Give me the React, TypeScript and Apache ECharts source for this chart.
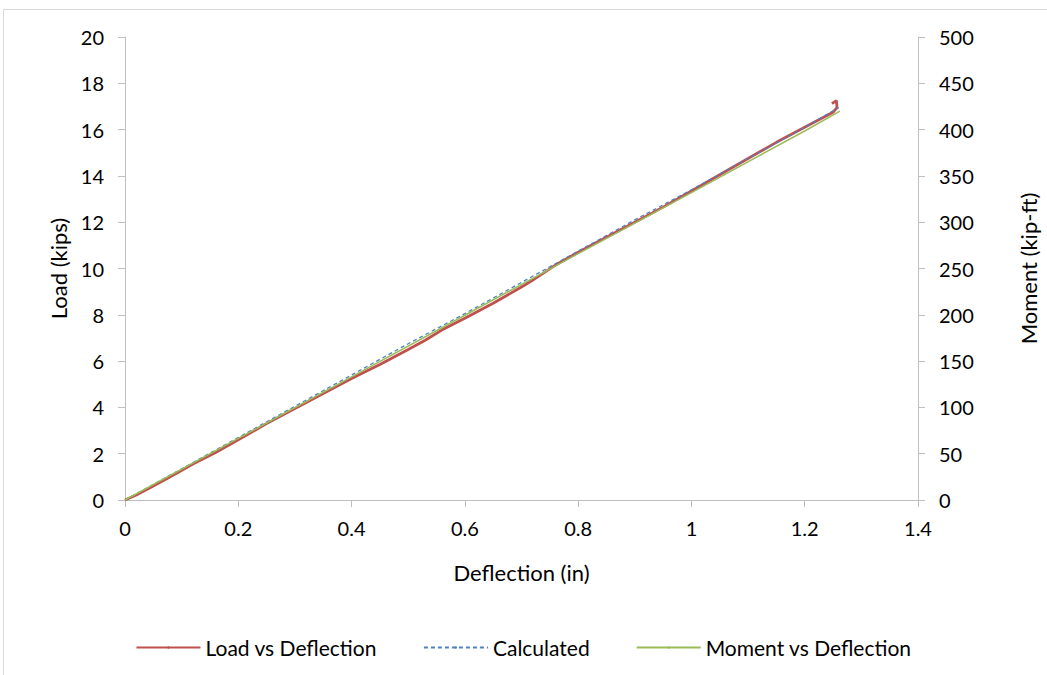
import React, { useEffect, useRef } from "react";
import * as echarts from "echarts";

const loadDefl = [0, 0.02, 0.05, 0.08, 0.12, 0.16, 0.2, 0.25, 0.3, 0.35, 0.4, 0.45, 0.5, 0.53, 0.56, 0.6, 0.65, 0.7, 0.72, 0.76, 0.8, 0.85, 0.9, 0.95, 1.0, 1.05, 1.1, 1.15, 1.2, 1.25, 1.257, 1.256, 1.248];
const loadVals = [0, 0.22, 0.6, 1.0, 1.55, 2.05, 2.6, 3.3, 3.95, 4.6, 5.25, 5.85, 6.5, 6.9, 7.35, 7.85, 8.5, 9.2, 9.5, 10.15, 10.7, 11.35, 12.0, 12.65, 13.35, 14.05, 14.75, 15.45, 16.1, 16.75, 16.95, 17.25, 17.12];

const calcDefl = [0, 0.1, 0.2, 0.3, 0.4, 0.5, 0.6, 0.7, 0.8, 0.9, 1.0, 1.1, 1.2, 1.26];
const calcVals = [0, 1.35, 2.7, 4.05, 5.4, 6.75, 8.05, 9.4, 10.75, 12.1, 13.4, 14.75, 16.1, 16.95];

const momDefl = [0, 0.2, 0.4, 0.6, 0.8, 1.0, 1.2, 1.262];
const momVals = [0, 66.5, 133, 199.5, 266, 332, 398.5, 420];

const pair = (xs: number[], ys: number[]) => xs.map((x, i) => [x, ys[i]]);

export default function App() {
  const ref = useRef<HTMLDivElement>(null);
  useEffect(() => {
    if (!ref.current) return;
    const chart = echarts.init(ref.current, null, { renderer: "svg" });
    const font = "Lato, 'Open Sans', sans-serif";
    const axisLine = { show: true, lineStyle: { color: "#BFBFBF", width: 1 } };
    const axisTick = { show: true, inside: false, length: 7, lineStyle: { color: "#BFBFBF" } };
    const lbl = { fontSize: 20, color: "#000", margin: 21, fontFamily: font };
    const ttl = { fontSize: 22, color: "#000", fontFamily: font };
    chart.setOption({
      animation: false,
      backgroundColor: "#fff",
      textStyle: { fontFamily: font },
      graphic: [
        {
          type: "rect",
          shape: { x: 3.5, y: 9.5, width: 1060, height: 700 },
          style: { fill: "none", stroke: "#D9D9D9", lineWidth: 1 },
          silent: true,
        },
      ],
      grid: { left: 125, right: 117, top: 37, bottom: 175, containLabel: false },
      legend: {
        top: 632,
        left: "center",
        itemWidth: 64,
        itemHeight: 3,
        itemGap: 46,
        textStyle: { fontSize: 21, color: "#000", fontFamily: font },
        data: ["Load vs Deflection", "Calculated", "Moment vs Deflection"],
      },
      xAxis: {
        type: "value",
        min: 0,
        max: 1.4,
        interval: 0.2,
        name: "Deflection (in)",
        nameLocation: "middle",
        nameGap: 61,
        nameTextStyle: ttl,
        axisLine,
        axisTick,
        splitLine: { show: false },
        axisLabel: { ...lbl, margin: 18, formatter: (v: number) => String(Math.round(v * 10) / 10) },
      },
      yAxis: [
        {
          type: "value",
          min: 0,
          max: 20,
          interval: 2,
          position: "left",
          name: "Load (kips)",
          nameLocation: "middle",
          nameRotate: 90,
          nameGap: 55,
          nameTextStyle: ttl,
          axisLine,
          axisTick,
          splitLine: { show: false },
          axisLabel: lbl,
        },
        {
          type: "value",
          min: 0,
          max: 500,
          interval: 50,
          position: "right",
          name: "Moment (kip-ft)",
          nameLocation: "middle",
          nameRotate: 90,
          nameGap: 99,
          nameTextStyle: ttl,
          axisLine,
          axisTick,
          splitLine: { show: false },
          axisLabel: lbl,
        },
      ],
      series: [
        {
          name: "Load vs Deflection",
          type: "line",
          yAxisIndex: 0,
          showSymbol: false,
          symbol: "none",
          z: 2,
          data: pair(loadDefl, loadVals),
          lineStyle: { color: "#C0504D", width: 2.75 },
          itemStyle: { color: "#C0504D" },
        },
        {
          name: "Calculated",
          type: "line",
          yAxisIndex: 0,
          showSymbol: false,
          symbol: "none",
          z: 3,
          data: pair(calcDefl, calcVals),
          lineStyle: { color: "#4F81BD", width: 1.25, type: [4, 3] },
          itemStyle: { color: "#4F81BD" },
        },
        {
          name: "Moment vs Deflection",
          type: "line",
          yAxisIndex: 1,
          showSymbol: false,
          symbol: "none",
          z: 4,
          data: pair(momDefl, momVals),
          lineStyle: { color: "#9BBB59", width: 1.5 },
          itemStyle: { color: "#9BBB59" },
        },
      ],
    });
    return () => chart.dispose();
  }, []);
  return <div ref={ref} style={{ position: "fixed", left: 0, top: 0, width: 1047, height: 675 }} />;
}
